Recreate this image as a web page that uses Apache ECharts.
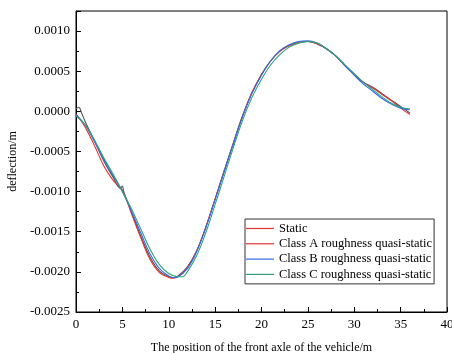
<!DOCTYPE html>
<html>
<head>
<meta charset="utf-8">
<script src="https://cdn.jsdelivr.net/npm/echarts@6/dist/echarts.min.js"></script>
<style>html,body{margin:0;padding:0;background:#fff}#c{width:452px;height:353px}</style>
</head>
<body>
<div id="c"></div>
<script>
// x positions (m) and deflections (m)
const staticX = [0, 0.3, 0.6, 1, 2, 3, 4, 4.8, 5.0, 5.15, 6, 7, 8, 9, 10, 10.5, 11, 12, 13, 14, 15, 16, 17, 18, 19, 20, 21, 22, 23, 24, 25, 26, 27, 28, 29, 30, 31, 32, 33, 34, 35, 36];
const staticY = [0.00003, 0.00005, -0.00002, -0.00013, -0.00037, -0.00062, -0.00082, -0.00096, -0.00093, -0.00100, -0.00126, -0.00156, -0.00182, -0.00199, -0.00206, -0.00207, -0.00205, -0.00194, -0.00174, -0.00144, -0.00109, -0.00073, -0.00038, -0.00004, 0.00024, 0.00046, 0.00063, 0.00075, 0.00082, 0.00086, 0.00087, 0.00084, 0.00078, 0.00069, 0.00057, 0.00046, 0.00036, 0.00030, 0.00022, 0.00014, 0.00006, -0.00002];

const classAX = [0, 1, 2, 3, 4, 4.5, 5, 6, 7, 8, 9, 10, 10.5, 11, 12, 13, 14, 15, 16, 17, 18, 19, 20, 21, 22, 23, 24, 25, 26, 27, 28, 29, 30, 31, 32, 33, 34, 35, 36];
const classAY = [-0.00003, -0.00020, -0.00043, -0.00068, -0.00086, -0.00092, -0.00098, -0.00128, -0.00158, -0.00185, -0.00201, -0.00207, -0.00208, -0.00206, -0.00195, -0.00174, -0.00144, -0.00109, -0.00074, -0.00039, -0.00005, 0.00024, 0.00046, 0.00063, 0.00075, 0.00082, 0.00086, 0.00087, 0.00084, 0.00078, 0.00069, 0.00057, 0.00046, 0.00036, 0.00029, 0.00021, 0.00013, 0.00004, -0.00004];

const classBX = [0, 1, 2, 3, 4, 5, 6, 7, 8, 9, 10, 10.5, 11, 12, 13, 14, 15, 16, 17, 18, 19, 20, 21, 22, 23, 24, 25, 26, 27, 28, 29, 30, 31, 32, 33, 34, 35, 36];
const classBY = [-0.00004, -0.00017, -0.00038, -0.00060, -0.00080, -0.00100, -0.00125, -0.00152, -0.00178, -0.00196, -0.00205, -0.00207, -0.00206, -0.00196, -0.00175, -0.00145, -0.00110, -0.00074, -0.00039, -0.00005, 0.00023, 0.00045, 0.00063, 0.00076, 0.00083, 0.00087, 0.00088, 0.00085, 0.00078, 0.00069, 0.00057, 0.00045, 0.00034, 0.00025, 0.00016, 0.00009, 0.00004, 0.00002];

const classCX = [0, 1, 2, 3, 4, 5, 6, 7, 8, 9, 10, 11, 11.5, 12, 13, 14, 15, 16, 17, 18, 19, 20, 21, 22, 23, 24, 25, 26, 27, 28, 29, 30, 31, 32, 33, 34, 35, 36];
const classCY = [-0.00006, -0.00017, -0.00036, -0.00058, -0.00078, -0.00100, -0.00122, -0.00147, -0.00172, -0.00191, -0.00202, -0.00206, -0.00206, -0.00200, -0.00180, -0.00151, -0.00116, -0.00080, -0.00044, -0.00010, 0.00018, 0.00040, 0.00058, 0.00071, 0.00080, 0.00085, 0.00087, 0.00085, 0.00078, 0.00069, 0.00058, 0.00047, 0.00036, 0.00027, 0.00018, 0.00010, 0.00005, 0.00003];

const seriesNames = ['Static', 'Class A roughness quasi-static', 'Class B roughness quasi-static', 'Class C roughness quasi-static'];
const xTicks = [0, 5, 10, 15, 20, 25, 30, 35, 40];
const yTicks = [-0.0025, -0.0020, -0.0015, -0.0010, -0.0005, 0.0000, 0.0005, 0.0010];

const colors = ['#505050', '#e03434', '#2e6ee6', '#2fa07a'];
const legendColors = ['#e03434', '#e03434', '#2e6ee6', '#2fa07a'];
const font = '"Liberation Serif", "Times New Roman", serif';

function pairs(xs, ys) { return xs.map((x, i) => [x, ys[i]]); }
const allData = [pairs(staticX, staticY), pairs(classAX, classAY), pairs(classBX, classBY), pairs(classCX, classCY)];

const chart = echarts.init(document.getElementById('c'), null, {renderer: 'canvas'});
chart.setOption({
  animation: false,
  backgroundColor: '#fff',
  grid: {left: 76, right: 5, top: 11, bottom: 41, containLabel: false, outerBoundsMode: 'none',
    show: true, borderColor: '#000', borderWidth: 1, backgroundColor: 'transparent'},
  legend: {
    show: true,
    orient: 'vertical', left: 245, top: 219,
    borderColor: '#333', borderWidth: 1, padding: [3, 2, 3, 1],
    backgroundColor: '#fff',
    icon: 'rect',
    itemWidth: 28, itemHeight: 1.2, itemGap: 2.3,
    textStyle: {fontFamily: font, fontSize: 12.5, color: '#000'},
    data: seriesNames.map((n, i) => ({name: n, itemStyle: {color: legendColors[i], borderWidth: 0}}))
  },
  xAxis: {
    type: 'value', min: xTicks[0], max: xTicks[xTicks.length - 1], interval: 5,
    name: 'The position of the front axle of the vehicle/m', nameLocation: 'middle', nameGap: 30,
    nameTextStyle: {fontFamily: font, fontSize: 12, color: '#000'},
    axisLine: {onZero: false, lineStyle: {color: '#000', width: 1}},
    axisTick: {inside: true, length: 5, lineStyle: {color: '#000'}},
    minorTick: {show: true, splitNumber: 2, length: 3, lineStyle: {color: '#000'}},
    splitLine: {show: false},
    axisLabel: {fontFamily: font, fontSize: 13, color: '#000', margin: 6}
  },
  yAxis: {
    type: 'value', min: yTicks[0], max: 0.00125, interval: 0.0005,
    name: 'deflection/m', nameLocation: 'middle', nameGap: 54,
    nameTextStyle: {fontFamily: font, fontSize: 12, color: '#000'},
    axisLine: {show: true, onZero: false, lineStyle: {color: '#000', width: 1}},
    axisTick: {inside: true, length: 5, lineStyle: {color: '#000'}},
    minorTick: {show: true, splitNumber: 2, length: 3, lineStyle: {color: '#000'}},
    splitLine: {show: false},
    axisLabel: {fontFamily: font, fontSize: 13, color: '#000', margin: 6, showMaxLabel: false,
      formatter: v => v.toFixed(4)}
  },
  series: seriesNames.map((n, i) => ({
    name: n, type: 'line', data: allData[i], symbol: 'none', smooth: 0.4,
    lineStyle: {color: colors[i], width: 1.1}, itemStyle: {color: legendColors[i]}, z: i === 0 ? 1 : 2 + i
  }))
});
</script>
</body>
</html>
